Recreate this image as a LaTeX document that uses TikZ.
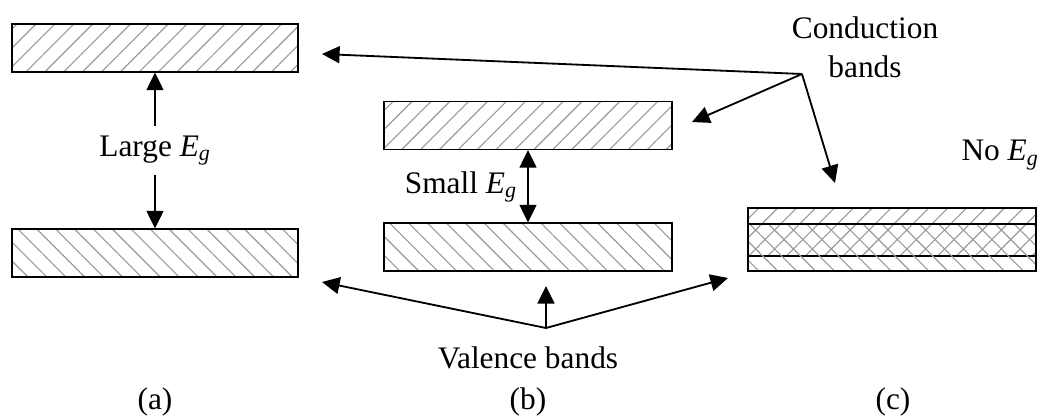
\documentclass[tikz,border=0pt]{standalone}
\usepackage{fontspec}
\setmainfont{Liberation Serif}
\usetikzlibrary{arrows.meta,patterns.meta}

\newcommand{\Eg}{\textit{E}\textsubscript{\textit{g}}}

\begin{document}
\begin{tikzpicture}[
    x=0.025cm, y=-0.025cm,
    band/.style={
        draw,
        line width=0.8pt,
        minimum width=7.2cm,
        minimum height=1.2cm,
        inner sep=0pt,
        pattern color=black!40
    },
    cband/.style={
        band,
        pattern={Lines[angle=45,distance=9.5pt,line width=0.8pt]}
    },
    vband/.style={
        band,
        pattern={Lines[angle=-45,distance=9.5pt,line width=0.8pt]}
    },
    lbl/.style={font=\fontsize{22.3}{27.7}\selectfont, inner sep=0pt, align=center},
    arrow/.style={-{Triangle[length=12.5pt,width=12pt]}, line width=1.3pt},
    dblarrow/.style={{Triangle[length=12.5pt,width=12pt]}-{Triangle[length=12.5pt,width=12pt]}, line width=1.3pt}
]
\useasboundingbox (0,0) rectangle (1040,419);

% bands
\node[cband, minimum width=7.15cm] (acond) at (155,48) {};
\node[vband, minimum width=7.15cm] (aval) at (155,253) {};
\node[cband] (bcond) at (528,125.5) {};
\node[vband] (bval) at (528,247) {};
\node[cband] (ccond) at (892,232) {};
\node[vband, minimum height=1.175cm] (cval) at (892,247.5) {};

% labels
\node[lbl] (condlbl) at (865,47) {Conduction\\bands};
\node[lbl, minimum height=1.225cm] (large) at (155,150.5) {Large \Eg};
\node[lbl, anchor=east] (small) at (517,187) {Small \Eg};
\node[lbl] (noeg) at (1000,155) {No \Eg};
\node[lbl] (vallbl) at (528,358) {Valence bands};
\node[lbl] (capa) at (155,402) {(a)};
\node[lbl] (capb) at (528,402) {(b)};
\node[lbl] (capc) at (893,402) {(c)};

% arrow ends
\coordinate (cb) at (802,74);
\coordinate (cbA) at (322,54);
\coordinate (cbB) at (692,122);
\coordinate (cbC) at (835,183);
\coordinate (vb) at (546,328);
\coordinate (vbA) at (322,282);
\coordinate (vbB) at (546,286);
\coordinate (vbC) at (728,278);

\draw[arrow] (large.north) -- (acond.south);
\draw[arrow] (large.south) -- (aval.north);
\draw[dblarrow] (bcond.south) -- (bval.north);

\draw[arrow] (cb) -- (cbA);
\draw[arrow] (cb) -- (cbB);
\draw[arrow] (cb) -- (cbC);
\draw[arrow] (vb) -- (vbA);
\draw[arrow] (vb) -- (vbB);
\draw[arrow] (vb) -- (vbC);
\end{tikzpicture}
\end{document}
